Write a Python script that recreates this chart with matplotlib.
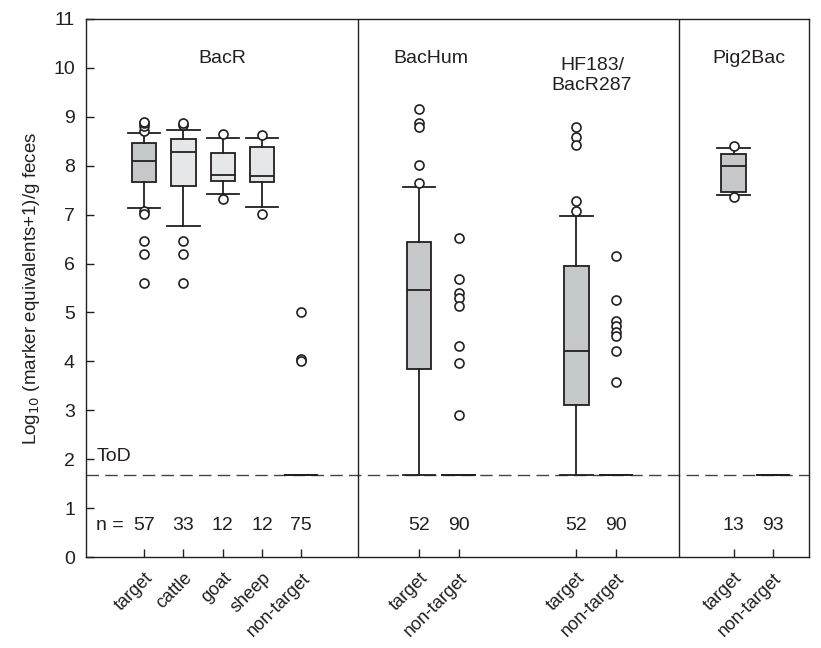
import matplotlib.pyplot as plt

# positions of each group along x (data units, 1 unit = one box slot)
positions = [1, 2, 3, 4, 5, 8, 9, 12, 13, 16, 17]
tick_labels = ["target", "cattle", "goat", "sheep", "non-target",
               "target", "non-target", "target", "non-target",
               "target", "non-target"]
n_counts = ["57", "33", "12", "12", "75", "52", "90", "52", "90", "13", "93"]

tod = 1.68

# box statistics: q1, median, q3, lower whisker, upper whisker
q1 = [7.66, 7.59, 7.68, 7.66, tod, 3.85, tod, 3.11, tod, 7.47, tod]
med = [8.10, 8.29, 7.81, 7.79, tod, 5.46, tod, 4.22, tod, 7.99, tod]
q3 = [8.46, 8.54, 8.27, 8.39, tod, 6.45, tod, 5.96, tod, 8.24, tod]
whislo = [7.13, 6.77, 7.42, 7.16, tod, tod, tod, tod, tod, 7.40, tod]
whishi = [8.67, 8.74, 8.56, 8.57, tod, 7.57, tod, 6.97, tod, 8.37, tod]
fliers = [
    [8.70, 8.82, 8.87, 8.90, 7.07, 7.02, 6.46, 6.19, 5.61],
    [8.83, 8.87, 6.46, 6.19, 5.61],
    [8.65, 7.32],
    [8.63, 7.02],
    [5.00, 4.05, 4.00],
    [9.15, 8.87, 8.80, 8.01, 7.65],
    [6.53, 5.68, 5.40, 5.29, 5.14, 4.31, 3.96, 2.91],
    [8.80, 8.59, 8.43, 7.27, 7.08],
    [6.15, 5.26, 4.82, 4.72, 4.60, 4.52, 4.22, 3.57],
    [8.41, 7.36],
    [],
]
box_colors = ["#c6c7c9", "#e6e7e9", "#e6e7e9", "#e6e7e9", "#e6e7e9",
              "#c6c7c9", "#e6e7e9", "#c6c7c9", "#e6e7e9",
              "#c6c7c9", "#e6e7e9"]

group_names = ["BacR", "BacHum", "HF183/\nBacR287", "Pig2Bac"]
group_x = [3, 8.3, 12.4, 16.4]
group_y = [10.2, 10.2, 9.85, 10.2]
dividers = [6.45, 14.6]

ink = "#231f20"
plt.rcParams["font.family"] = ["Liberation Sans", "DejaVu Sans"]

fig = plt.figure(figsize=(8.21, 6.48), dpi=100)
ax = fig.add_axes([0.1048, 0.1404, 0.8806, 0.8303])

stats = []
for i in range(len(positions)):
    stats.append({"q1": q1[i], "med": med[i], "q3": q3[i],
                  "whislo": whislo[i], "whishi": whishi[i],
                  "fliers": fliers[i]})

bp = ax.bxp(stats, positions=positions, widths=0.62, capwidths=0.82,
            patch_artist=True, showfliers=True,
            boxprops=dict(edgecolor=ink, linewidth=1.3),
            medianprops=dict(color=ink, linewidth=1.3),
            whiskerprops=dict(color=ink, linewidth=1.3),
            capprops=dict(color=ink, linewidth=1.3),
            flierprops=dict(marker="o", markerfacecolor="white",
                            markeredgecolor=ink, markersize=6.5,
                            markeredgewidth=1.2))
for patch, c in zip(bp["boxes"], box_colors):
    patch.set_facecolor(c)

ax.axhline(tod, color="#444444", linewidth=1.0, linestyle=(0, (9, 4.5)), zorder=0)
for d in dividers:
    ax.axvline(d, color=ink, linewidth=1.0)

for name, gx, gy in zip(group_names, group_x, group_y):
    ax.text(gx, gy, name, ha="center", va="center", fontsize=14, color=ink,
            linespacing=1.2)

for p, n in zip(positions, n_counts):
    ax.text(p, 0.64, n, ha="center", va="center", fontsize=14, color=ink)
ax.text(0.12, 0.64, "n =", ha="center", va="center", fontsize=14, color=ink)
ax.text(-0.22, 2.06, "ToD", ha="left", va="center", fontsize=14, color=ink)

ax.set_xlim(-0.48, 17.92)
ax.set_ylim(0, 11)
ax.set_yticks(range(0, 12))
ax.set_xticks(positions)
ax.set_xticklabels(tick_labels, rotation=45, ha="right", rotation_mode="anchor",
                   fontsize=13, color=ink)
ax.tick_params(axis="both", direction="in", length=6, width=1.0, color=ink)
ax.tick_params(axis="y", labelsize=14, labelcolor=ink, pad=8)
ax.tick_params(axis="x", pad=9)
ax.set_ylabel("Log$_{10}$ (marker equivalents+1)/g feces", fontsize=13.5,
              color=ink, labelpad=8)
for s in ax.spines.values():
    s.set_color(ink)
    s.set_linewidth(1.0)

fig.savefig("out.png", dpi=100)
